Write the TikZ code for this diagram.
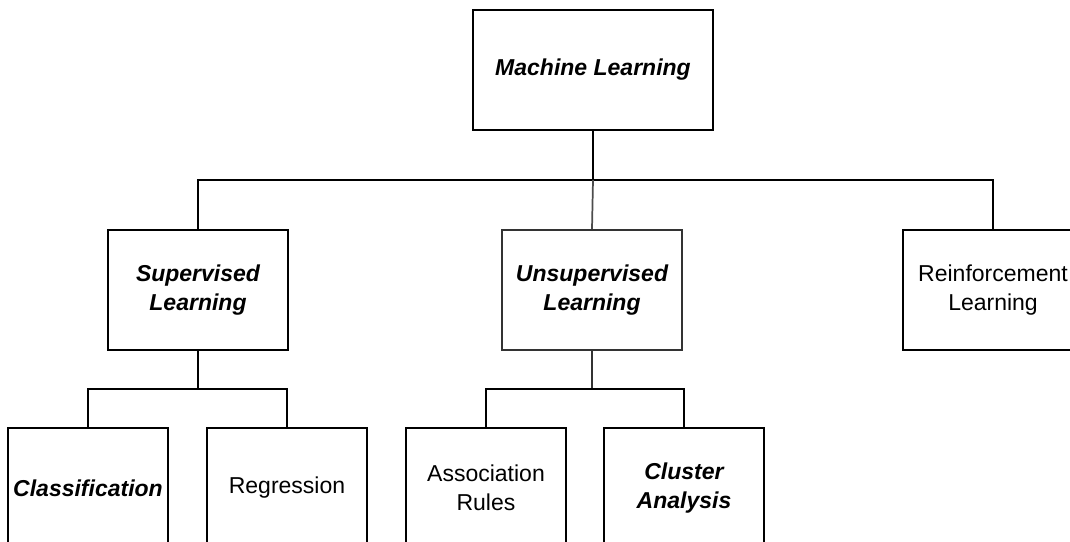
\documentclass[tikz,border=0pt]{standalone}
\usepackage{fontspec}
\setmainfont{Liberation Sans}
\tikzset{
  box/.style={draw, line width=1pt, fill=white, align=center, inner sep=0pt,
    font=\fontsize{17.25}{21.75}\selectfont},
  wide/.style={box, minimum width=180pt, minimum height=90pt},
  mid/.style={box, minimum width=135pt, minimum height=90pt},
  leaf/.style={box, minimum width=120pt, minimum height=90pt},
  em/.style={font=\fontsize{17.25}{21.75}\selectfont\bfseries\itshape},
  link/.style={line width=1pt}
}
\begin{document}
\begin{tikzpicture}[x=0.75pt,y=-0.75pt]
  \useasboundingbox (0,0) rectangle (1070,542);
  \clip (0,0) rectangle (1070,542);
  % top
  \node[wide, em] (ml) at (593,70) {Machine Learning};
  % second row
  \node[mid, em] (sup) at (198,290) {Supervised\\Learning};
  \node[mid, em, draw=black!80, line width=1.6pt] (uns) at (592,290) {Unsupervised\\Learning};
  \node[mid] (rl) at (993,290) {Reinforcement\\Learning};
  % third row
  \node[leaf, em] (cls) at (88,488) {Classification};
  \node[leaf] (reg) at (287,488) {Regression};
  \node[leaf] (asr) at (486,488) {Association\\Rules};
  \node[leaf, em] (clu) at (684,488) {Cluster\\Analysis};
  % buses
  \coordinate (b1) at (593,180);
  \coordinate (b2) at (198,389);
  \coordinate (b3) at (592,389);
  \draw[link] (ml.south) -- (b1);
  \draw[link] (sup.north) |- (b1) -| (rl.north);
  \draw[link, black!70, line width=1.3pt] (b1) -- (uns.north);
  \draw[link] (sup.south) -- (b2);
  \draw[link] (cls.north) |- (b2) -| (reg.north);
  \draw[link, black!80, line width=1.5pt] (uns.south) -- (b3);
  \draw[link] (asr.north) |- (b3) -| (clu.north);
\end{tikzpicture}
\end{document}
